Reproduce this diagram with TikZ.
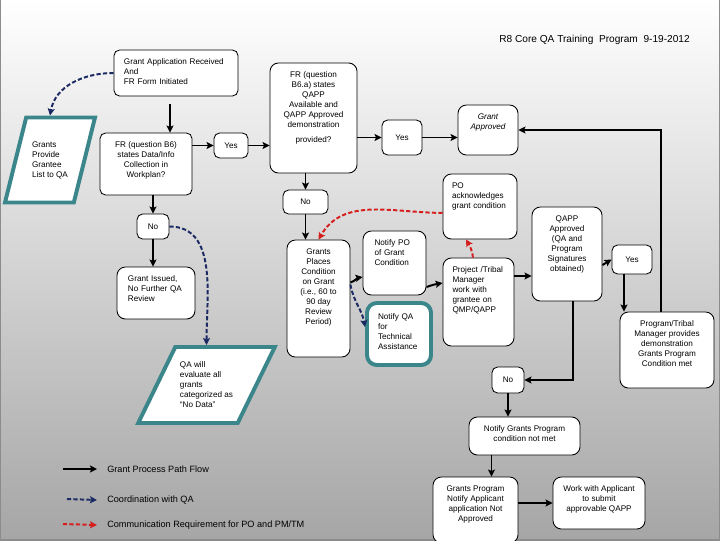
\documentclass[tikz,border=0pt]{standalone}
\usepackage{fontspec}
\setmainfont{Liberation Sans}
\usetikzlibrary{shapes,arrows,arrows.meta,positioning}

\definecolor{qateal}{RGB}{58,134,138}
\definecolor{qanavy}{RGB}{28,42,100}
\definecolor{pored}{RGB}{214,30,30}
\newcommand{\boxfont}{\fontsize{5.8}{7.1}\selectfont}

\begin{document}
\begin{tikzpicture}[x=0.025cm, y=-0.025cm, >={Stealth[length=5pt, width=5pt, inset=1pt]},
    box/.style={rectangle, draw, line width=0.6pt, rounded corners=4pt, fill=white, font=\boxfont, align=center},
    para/.style={trapezium, trapezium stretches body, draw=qateal, line width=2.8pt, fill=white, font=\boxfont, align=left},
    lab/.style={anchor=north, yshift=-6.5pt, inner sep=0pt, align=center, font=\boxfont},
    labl/.style={lab, align=left, text width=#1},
    ar/.style={line width=1.4pt, ->},
    coord/.style={line width=1.4pt, ->, draw=qanavy, dash pattern=on 3pt off 1.6pt},
    comm/.style={line width=1.4pt, ->, draw=pored, dash pattern=on 3pt off 1.6pt},
    legend/.style={anchor=west, inner sep=0pt, font=\fontsize{6.5}{7.5}\selectfont}]
    \useasboundingbox (0,0) rectangle (720,540);
    \shade [top color=white, bottom color=black!35] (0,0) rectangle (720,540);
    \draw [black!45, line width=1.2pt] (0,0) -- (0,540) -- (720,540) -- (720,0);

    \node [anchor=east, inner sep=0pt, font=\fontsize{7.2}{8.6}\selectfont] (title) at (690,40) {R8 Core QA Training\ \ Program\ \ 9-19-2012};

    % upper row
    \node [box, minimum width=3.1cm, minimum height=1.15cm, label={[labl=2.6cm]north:{Grant Application Received\\And\\FR Form Initiated}}] (app) at (176,73) {};
    \node [para, trapezium left angle=76, trapezium right angle=104, inner ysep=17pt, minimum width=2.25cm] (list) at (50,160) {Grants\\Provide\\Grantee\\List to QA};
    \node [box, minimum width=2.3cm, minimum height=1.55cm, label={[lab]north:{FR (question B6)\\states Data/Info\\Collection in\\Workplan?}}] (datq) at (146,164) {};
    \node [box, minimum width=0.85cm, minimum height=0.625cm] (yes1) at (231,145.5) {Yes};
    \node [box, rounded corners=6pt, minimum width=2.175cm, minimum height=2.75cm, label={[lab]north:{FR (question\\B6.a) states\\QAPP\\Available and\\QAPP Approved\\demonstration\\[3.5pt]provided?}}] (qappq) at (313.5,118) {};
    \node [box, minimum width=1.0cm, minimum height=0.875cm] (yes2) at (402,137.5) {Yes};
    \node [box, rounded corners=6pt, minimum width=1.5cm, minimum height=1.25cm, label={[lab, font=\boxfont\itshape]north:{Grant\\Approved}}] (approved) at (488,130) {};

    % middle
    \node [box, minimum width=1.125cm, minimum height=0.6cm] (no1) at (305.5,202) {No};
    \node [box, minimum width=0.8cm, minimum height=0.625cm] (no2) at (153,226.5) {No};
    \node [box, rounded corners=6pt, minimum width=1.85cm, minimum height=1.625cm, label={[labl=1.4cm]north:{PO\\acknowledges\\grant condition}}] (poack) at (480,206.5) {};
    \node [box, rounded corners=6pt, minimum width=1.95cm, minimum height=1.3cm, label={[labl=1.4cm]north:{Grant Issued,\\No Further QA\\Review}}] (issued) at (156,293) {};
    \node [para, trapezium left angle=64, trapezium right angle=116, inner ysep=10.7pt, minimum width=3.075cm] (nodata) at (206.5,385) {QA will\\evaluate all\\grants\\categorized as\\``No Data''};
    \node [box, rounded corners=6pt, minimum width=1.575cm, minimum height=2.925cm, label={[lab]north:{Grants\\Places\\Condition\\on Grant\\(i.e., 60 to\\90 day\\Review\\Period)}}] (cond) at (318.5,298.5) {};
    \node [box, rounded corners=6pt, minimum width=1.575cm, minimum height=1.6cm, label={[labl=1.0cm]north:{Notify PO\\of Grant\\Condition}}] (notpo) at (394.5,263) {};
    \node [box, draw=qateal, line width=2.8pt, rounded corners=7pt, minimum width=1.6cm, minimum height=1.55cm, label={[labl=1.05cm, yshift=-2pt]north:{Notify QA\\for\\Technical\\Assistance}}] (notqa) at (399,334) {};
    \node [box, rounded corners=6pt, minimum width=1.775cm, minimum height=2.2cm, label={[labl=1.3cm]north:{Project /Tribal\\Manager\\work with\\grantee on\\QMP/QAPP}}] (ptm) at (478.5,302) {};
    \node [box, rounded corners=6pt, minimum width=1.75cm, minimum height=2.35cm, label={[lab]north:{QAPP\\Approved\\(QA and\\Program\\Signatures\\obtained)}}] (qappok) at (567,254) {};
    \node [box, minimum width=1.0cm, minimum height=0.725cm] (yes3) at (632,259.5) {Yes};
    \node [box, rounded corners=6pt, minimum width=2.35cm, minimum height=1.9cm, label={[lab]north:{Program/Tribal\\Manager provides\\demonstration\\Grants Program\\Condition met}}] (demo) at (667,350) {};

    % lower part
    \node [box, minimum width=0.8cm, minimum height=0.65cm] (no3) at (508,380) {No};
    \node [box, rounded corners=6pt, minimum width=2.775cm, minimum height=0.95cm, label={[lab]north:{Notify Grants Program\\condition not met}}] (notgp) at (524.5,436) {};
    \node [box, rounded corners=6pt, minimum width=2.125cm, minimum height=1.65cm, label={[lab]north:{Grants Program\\Notify Applicant\\application Not\\Approved}}] (notapp) at (475.5,510) {};
    \node [box, rounded corners=6pt, minimum width=2.3cm, minimum height=1.3cm, label={[lab]north:{Work with Applicant\\to submit\\approvable QAPP}}] (work) at (599,503) {};

    % grant process path
    \draw [ar] ([xshift=-0.15cm,yshift=-0.2cm]app.south) -- ([xshift=-0.15cm]app.south |- datq.north);
    \draw [ar] (yes1.west -| datq.east) -- (yes1.west);
    \draw [ar] (yes1.east) -- (yes1.east -| qappq.west);
    \draw [ar] (yes2.west -| qappq.east) -- (yes2.west);
    \draw [ar] (yes2.east) -- (yes2.east -| approved.west);
    \draw [ar] (no1.north |- qappq.south) -- (no1.north);
    \draw [ar] (no1.south) -- (no1.south |- cond.north);
    \draw [ar] (no2.north |- datq.south) -- (no2.north);
    \draw [ar] (no2.south) -- (no2.south |- issued.north);
    \draw [ar] ([yshift=0.4cm]cond.east) to [out=20, in=190] ([yshift=-0.35cm]notpo.west);
    \draw [ar] ([yshift=-0.6cm]notpo.east) to [out=20, in=190] ([yshift=0.475cm]ptm.west);
    \draw [ar] ([yshift=0.65cm]ptm.east) -- ([yshift=0.65cm]ptm.east -| qappok.west);
    \draw [ar] ([yshift=-0.275cm]qappok.east) -- (yes3.west);
    \draw [ar] ([xshift=-0.2cm]yes3.south) -- ([xshift=-0.2cm]yes3.south |- demo.north);
    \draw [ar] ([xshift=-0.15cm]demo.north) |- (approved.east);
    \draw [ar] ([xshift=0.15cm]qappok.south) |- (no3.east);
    \draw [ar] (no3.south) -- (no3.south |- notgp.north);
    \draw [ar] ([xshift=0.4cm]notapp.north |- notgp.south) -- ([xshift=0.4cm]notapp.north);
    \draw [ar] (work.west -| notapp.east) -- (work.west);

    % coordination with QA
    \draw [coord] (app.west) to [out=180, in=80] (list.north);
    \draw [coord] (no2.east) to [out=0, in=90] (nodata.north);
    \draw [coord] ([yshift=0.35cm]cond.east) to [out=-80, in=100] ([yshift=0.175cm]notqa.west);

    % PO and PM/TM
    \draw [comm] ([yshift=-0.16cm]poack.west) to [out=180, in=60] (cond.north);
    \draw [comm] ([xshift=-0.14cm]ptm.north) to [out=95, in=-60] ([xshift=-0.35cm]poack.south);

    % legend
    \coordinate (lg1) at (63,469);
    \coordinate (lg2) at (67,499);
    \coordinate (lg3) at (63,524);
    \node [legend] (lgflow) at (107,469) {Grant Process Path Flow};
    \node [legend] (lgqa) at (107,500) {Coordination with QA};
    \node [legend] (lgpo) at (107,525) {Communication Requirement for PO and PM/TM};
    \draw [ar] (lg1) -- ([xshift=-0.25cm]lgflow.west);
    \draw [coord] (lg2) -- ([xshift=-0.25cm]lgqa.west);
    \draw [comm] (lg3) -- ([xshift=-0.25cm]lgpo.west);
\end{tikzpicture}
\end{document}
